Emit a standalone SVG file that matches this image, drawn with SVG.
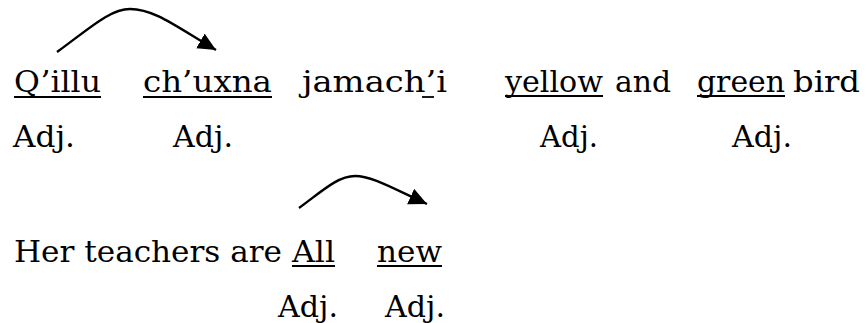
<svg xmlns="http://www.w3.org/2000/svg" width="867" height="323" viewBox="0 0 867 323">
<style>
text{font-family:"DejaVu Serif","Liberation Serif",serif;font-size:29px;fill:#000}
.u{stroke:#000;stroke-width:1.8}
.c{fill:none;stroke:#000;stroke-width:2.4}
</style>
<defs>
<marker id="ah" markerUnits="userSpaceOnUse" markerWidth="22" markerHeight="22" refX="18" refY="8.5" orient="auto">
<path d="M0,0 L18,8.5 L0,17 Z" fill="#000"/>
</marker>
</defs>
<rect width="867" height="323" fill="#fff"/>
<g id="connectors">
<path class="c" d="M57,52 C90,28 110,9 130,9 C155,9 178,28 216,50" marker-end="url(#ah)"/>
<path class="c" d="M299,208 C320,193 337,176 355,176 C372,176 392,188 427,204" marker-end="url(#ah)"/>
</g>
<g id="row1">
<g id="w-qillu"><text x="14" y="92" textLength="87" lengthAdjust="spacingAndGlyphs">Q’illu</text><line class="u" x1="14" y1="97" x2="101" y2="97"/></g>
<g id="w-chuxna"><text x="143" y="92" textLength="129" lengthAdjust="spacingAndGlyphs">ch’uxna</text><line class="u" x1="143" y1="97" x2="272" y2="97"/></g>
<g id="w-jamachi"><text x="302" y="92" textLength="145" lengthAdjust="spacingAndGlyphs">jamach’i</text><line class="u" x1="422" y1="97" x2="434" y2="97"/></g>
<g id="w-yellow"><text x="505" y="92" textLength="98" lengthAdjust="spacingAndGlyphs">yellow</text><line class="u" x1="505" y1="96" x2="603" y2="96"/></g>
<g id="w-and"><text x="615" y="92" textLength="56" lengthAdjust="spacingAndGlyphs">and</text></g>
<g id="w-green"><text x="697" y="92" textLength="88" lengthAdjust="spacingAndGlyphs">green</text><line class="u" x1="697" y1="96" x2="785" y2="96"/></g>
<g id="w-bird"><text x="793" y="92" textLength="67" lengthAdjust="spacingAndGlyphs">bird</text></g>
</g>
<g id="row2">
<text x="13" y="147" textLength="62" lengthAdjust="spacingAndGlyphs">Adj.</text>
<text x="173" y="147" textLength="60" lengthAdjust="spacingAndGlyphs">Adj.</text>
<text x="540" y="147" textLength="58" lengthAdjust="spacingAndGlyphs">Adj.</text>
<text x="732" y="147" textLength="60" lengthAdjust="spacingAndGlyphs">Adj.</text>
</g>
<g id="row3">
<g id="w-her"><text x="14" y="262" textLength="268" lengthAdjust="spacingAndGlyphs">Her teachers are</text></g>
<g id="w-all"><text x="292" y="262" textLength="43" lengthAdjust="spacingAndGlyphs">All</text><line class="u" x1="292" y1="266" x2="335" y2="266"/></g>
<g id="w-new"><text x="377" y="262" textLength="65" lengthAdjust="spacingAndGlyphs">new</text><line class="u" x1="377" y1="266" x2="442" y2="266"/></g>
</g>
<g id="row4">
<text x="278" y="317" textLength="60" lengthAdjust="spacingAndGlyphs">Adj.</text>
<text x="385" y="317" textLength="60" lengthAdjust="spacingAndGlyphs">Adj.</text>
</g>
</svg>
